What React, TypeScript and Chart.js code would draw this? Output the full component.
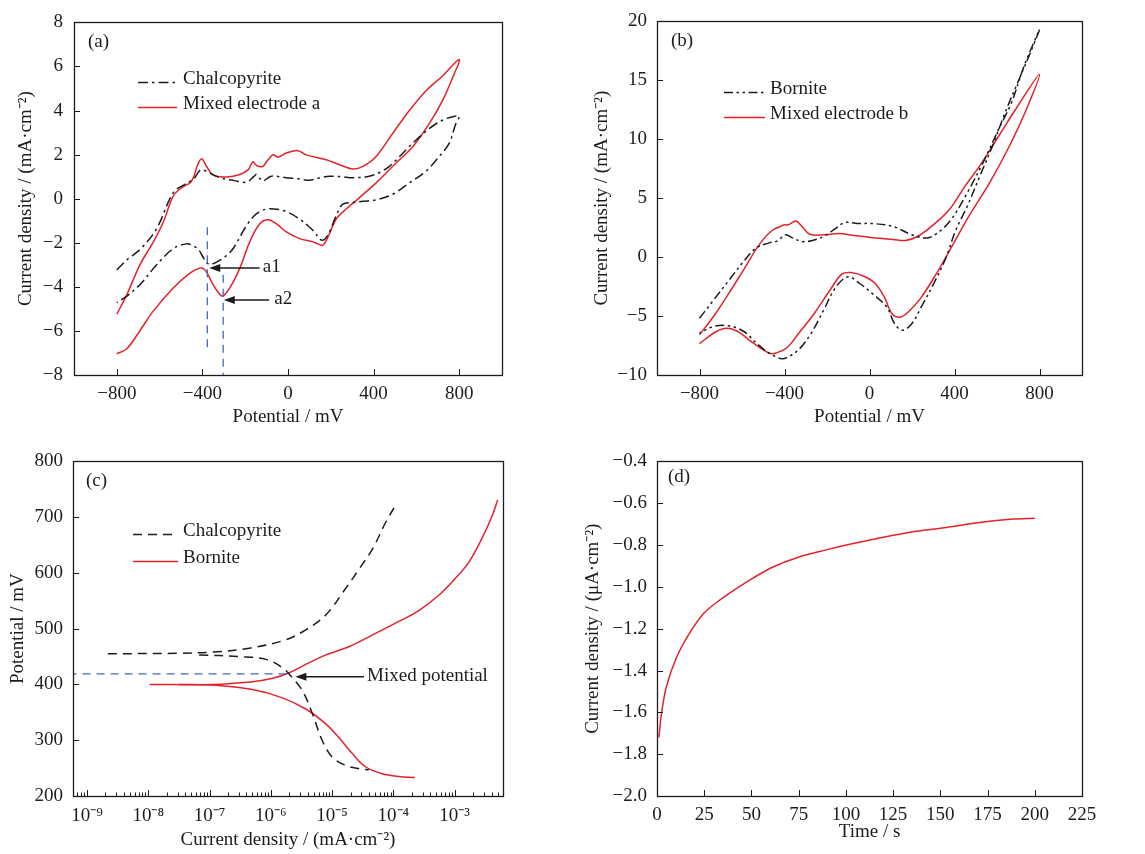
import React, { useEffect, useRef } from "react";
import { Chart, registerables } from "chart.js";

Chart.register(...registerables);

const FONT = '"Liberation Serif", "Times New Roman", Times, serif';
const FS = 19;
const INK = "#1c1c1c";
const RED = "#e3222a";
const BLUE = "#4169c0";

const DASH_DOT = [10, 4, 2.5, 4];
const DASH_DOT_DOT = [9, 3.5, 2.5, 3.5, 2.5, 3.5];
const DASHED = [9, 6];
const BLUE_DASH = [8, 6];

// ================= (a) Chalcopyrite vs mixed electrode a =================
const aXTicks = [-800, -400, 0, 400, 800];
const aYTicks = [-8, -6, -4, -2, 0, 2, 4, 6, 8];

const aChalcoFwdX = [-800, -750, -687, -614, -536, -482, -440, -410, -390, -318, -250, -194, -160, -148, -130, -117, -78, -8, 50, 101, 150, 194, 250, 303, 380, 430, 474, 520, 567, 620, 660, 700, 738, 770, 800];
const aChalcoFwdY = [-3.23, -2.75, -2.26, -1.36, 0.28, 0.65, 0.9, 1.3, 1.28, 0.95, 0.82, 0.75, 1.0, 1.1, 0.9, 0.8, 1.02, 0.95, 0.9, 0.84, 0.95, 1.02, 1.0, 0.95, 1.02, 1.2, 1.47, 1.9, 2.37, 2.85, 3.18, 3.45, 3.63, 3.72, 3.75];
const aChalcoRevX = [784, 753, 707, 645, 567, 489, 412, 350, 303, 256, 225, 194, 170, 150, 124, 90, 54, 0, -50, -100, -148, -194, -256, -290, -320, -350, -370, -385, -400, -415, -440, -474, -536, -614, -692, -753, -800];
const aChalcoRevY = [3.4, 2.51, 1.92, 1.25, 0.72, 0.2, -0.05, -0.12, -0.17, -0.25, -0.77, -1.51, -1.85, -1.85, -1.51, -1.2, -0.92, -0.62, -0.48, -0.47, -0.69, -1.22, -2.26, -2.6, -2.8, -2.95, -2.97, -2.85, -2.6, -2.35, -2.15, -2.05, -2.26, -3.0, -3.9, -4.42, -4.72];

const aMixedFwdX = [-800, -753, -692, -629, -583, -536, -497, -458, -440, -425, -404, -381, -350, -287, -225, -186, -170, -163, -152, -140, -117, -93, -70, -47, -8, 47, 85, 179, 241, 303, 350, 412, 489, 567, 645, 722, 800];
const aMixedFwdY = [-5.24, -4.35, -3.0, -1.96, -1.07, 0.13, 0.5, 0.72, 1.0, 1.47, 1.81, 1.47, 1.07, 0.99, 1.1, 1.32, 1.6, 1.68, 1.55, 1.47, 1.47, 1.77, 1.99, 1.89, 2.07, 2.18, 1.99, 1.77, 1.54, 1.35, 1.47, 1.92, 2.96, 4.0, 4.9, 5.57, 6.32];
const aMixedRevX = [769, 722, 660, 583, 505, 412, 334, 272, 225, 194, 163, 140, 117, 54, -8, -54, -93, -132, -179, -225, -272, -306, -330, -350, -388, -412, -458, -536, -629, -692, -753, -800];
const aMixedRevY = [5.49, 4.45, 3.41, 2.36, 1.62, 0.72, 0.05, -0.47, -0.92, -1.59, -2.11, -2.05, -1.96, -1.81, -1.51, -1.14, -0.95, -1.14, -1.96, -3.15, -4.05, -4.42, -4.2, -3.9, -3.23, -3.15, -3.38, -4.05, -5.09, -5.99, -6.81, -7.03];

const aGuideX = [-377, -303];
const aGuideTop = [-1.3, -3.45];
const aGuideBottom = [-7.0, -8];

// ================= (b) Bornite vs mixed electrode b =================
const bXTicks = [-800, -400, 0, 400, 800];
const bYTicks = [-10, -5, 0, 5, 10, 15, 20];

const bBorniteFwdX = [-800, -735, -663, -591, -533, -476, -432, -396, -360, -317, -274, -216, -159, -115, -58, 14, 111, 199, 272, 331, 389, 463, 536, 609, 668, 727, 800];
const bBorniteFwdY = [-5.19, -3.67, -2.0, -0.33, 0.78, 1.19, 1.39, 1.89, 1.61, 1.33, 1.39, 1.75, 2.44, 2.94, 2.86, 2.85, 2.6, 1.9, 1.63, 2.2, 3.3, 5.56, 8.08, 10.9, 13.1, 16.2, 19.3];
const bBorniteRevX = [756, 697, 639, 580, 521, 463, 404, 360, 301, 243, 199, 155, 118, 82, 14, -43, -101, -159, -216, -274, -332, -389, -418, -476, -533, -591, -663, -735, -800];
const bBorniteRevY = [17.3, 14.8, 12.3, 9.48, 6.96, 4.44, 2.2, -0.05, -2.29, -4.25, -5.65, -6.2, -5.65, -4.25, -3.1, -2.28, -1.67, -2.56, -4.5, -6.44, -7.83, -8.53, -8.61, -8.11, -7.28, -6.31, -5.83, -5.89, -6.44];

const bMixedFwdX = [-800, -735, -663, -591, -519, -461, -404, -382, -346, -317, -281, -216, -144, -72, 14, 111, 170, 228, 301, 375, 448, 521, 609, 697, 800];
const bMixedFwdY = [-6.58, -5.06, -3.1, -1.03, 1.06, 2.22, 2.72, 2.75, 3.06, 2.58, 1.94, 1.89, 2.0, 1.83, 1.65, 1.5, 1.41, 1.77, 2.75, 4.02, 5.98, 7.8, 10.3, 12.8, 15.5];
const bMixedRevX = [735, 655, 565, 472, 415, 372, 315, 240, 180, 145, 106, 70, 25, -29, -87, -130, -187, -260, -332, -389, -447, -476, -548, -620, -670, -721, -800];
const bMixedRevY = [12.4, 9.3, 6.3, 3.6, 1.8, 0.4, -1.4, -3.5, -4.7, -5.09, -4.8, -3.4, -2.2, -1.6, -1.31, -1.44, -2.83, -4.78, -6.44, -7.69, -8.17, -8.11, -7.28, -6.31, -6.03, -6.31, -7.33];

// ================= (c) Tafel polarisation =================
const cXTicks = [1e-9, 1e-8, 1e-7, 1e-6, 1e-5, 1e-4, 1e-3];
const cYTicks = [200, 300, 400, 500, 600, 700, 800];

// current density given as log10(mA·cm^-2)
const cChalcoAnodicLogI = [-8.66, -7.5, -6.95, -6.35, -5.76, -5.43, -5.1, -4.78, -4.56, -4.34, -4.13, -3.94];
const cChalcoAnodicE = [455, 456, 458, 465, 480, 498, 525, 572, 607, 643, 690, 726];
const cChalcoCathodicLogI = [-7.17, -6.51, -6.08, -5.81, -5.65, -5.48, -5.32, -5.16, -5.0, -4.78, -4.56, -4.4];
const cChalcoCathodicE = [453, 450, 445, 430, 412, 388, 347, 299, 270, 255, 249, 247];

const cBorniteAnodicLogI = [-7.98, -6.95, -6.3, -5.97, -5.7, -5.43, -5.1, -4.72, -4.34, -3.91, -3.58, -3.26, -2.99, -2.77, -2.56, -2.39, -2.3];
const cBorniteAnodicE = [400, 400, 405, 411, 421, 436, 453, 468, 489, 513, 533, 560, 590, 619, 661, 702, 731];
const cBorniteCathodicLogI = [-7.5, -6.95, -6.3, -5.81, -5.43, -5.1, -4.89, -4.67, -4.45, -4.18, -3.91, -3.65];
const cBorniteCathodicE = [400, 399, 391, 376, 356, 329, 305, 276, 252, 240, 235, 233];

const cMixedLogI = [-9.3, -5.7];
const cMixedE = [419, 419];

// ================= (d) chronoamperometry =================
const dXTicks = [0, 25, 50, 75, 100, 125, 150, 175, 200, 225];
const dYTicks = [-2.0, -1.8, -1.6, -1.4, -1.2, -1.0, -0.8, -0.6, -0.4];
const dTime = [1, 2.3, 4.9, 10.2, 17.3, 24.7, 33.2, 42, 50.8, 61.4, 74.8, 89.6, 100.2, 117.9, 135.5, 153.2, 170.8, 188.5, 200];
const dCurrent = [-1.72, -1.61, -1.48, -1.34, -1.22, -1.127, -1.063, -1.008, -0.958, -0.905, -0.858, -0.823, -0.8, -0.766, -0.736, -0.716, -0.692, -0.676, -0.672];

// ================= helpers =================
type XY = { x: number; y: number };
const pts = (xs: number[], ys: number[]): XY[] => xs.map((x, i) => ({ x, y: ys[i] }));
const logPts = (ls: number[], ys: number[]): XY[] => ls.map((l, i) => ({ x: Math.pow(10, l), y: ys[i] }));
const minus = (s: string) => s.replace("-", "\u2212");
const fmtInt = (v: number) => minus(String(Math.round(v)));
const fmtDec = (v: number) => minus(v.toFixed(1));
const SUP: Record<string, string> = { "-": "\u207B", "0": "\u2070", "1": "\u00B9", "2": "\u00B2", "3": "\u00B3", "4": "\u2074", "5": "\u2075", "6": "\u2076", "7": "\u2077", "8": "\u2078", "9": "\u2079" };
const fmtPow = (v: number) => "10" + String(Math.round(Math.log10(v))).split("").map((c) => SUP[c] || c).join("");

const LW = 1.5;
const lineDs = (data: XY[], color: string, dash: number[], width = LW, tension = 0.35) => ({
  data,
  showLine: true,
  borderColor: color,
  backgroundColor: color,
  borderWidth: width,
  borderDash: dash,
  pointRadius: 0,
  pointHoverRadius: 0,
  tension,
  fill: false,
});

type Spec = {
  cx: number; cy: number; cw: number; ch: number;
  L: number; T: number; R: number; B: number;
  xType: "linear" | "logarithmic";
  xMin: number; xMax: number; yMin: number; yMax: number;
  xTicks: number[]; yTicks: number[]; xMinor?: number[];
  xFmt: (v: number) => string; yFmt: (v: number) => string;
  xTitle: string; yTitle: string;
  xTitlePad: number; yTitlePad: number; xTickPad: number; yTickPad: number;
  datasets: any[];
  panel: string; panelPos: [number, number];
  legend: { label: string; color: string; dash: number[] }[];
  legendPos: { x0: number; x1: number; tx: number; rows: number[] };
  arrows?: { x1: number; y1: number; x2: number; y2: number }[];
  labels?: { text: string; x: number; y: number }[];
};

function decor(s: Spec) {
  return {
    id: "decor",
    afterDatasetsDraw(chart: any) {
      const { ctx, chartArea: a } = chart;
      const xs = chart.scales.x;
      const ys = chart.scales.y;
      ctx.save();
      ctx.strokeStyle = INK;
      ctx.lineWidth = 1;
      ctx.setLineDash([]);
      ctx.beginPath();
      for (const v of s.xTicks) {
        const p = Math.round(xs.getPixelForValue(v)) + 0.5;
        if (p < a.left + 1 || p > a.right - 1) continue;
        ctx.moveTo(p, a.bottom);
        ctx.lineTo(p, a.bottom - 6);
      }
      for (const v of s.xMinor || []) {
        const p = Math.round(xs.getPixelForValue(v)) + 0.5;
        if (p < a.left + 1 || p > a.right - 1) continue;
        ctx.moveTo(p, a.bottom);
        ctx.lineTo(p, a.bottom - 3.5);
      }
      for (const v of s.yTicks) {
        const p = Math.round(ys.getPixelForValue(v)) + 0.5;
        if (p < a.top + 1 || p > a.bottom - 1) continue;
        ctx.moveTo(a.left, p);
        ctx.lineTo(a.left + 6, p);
      }
      ctx.stroke();
      ctx.lineWidth = 1.3;
      ctx.strokeRect(Math.round(a.left) + 0.5, Math.round(a.top) + 0.5, Math.round(a.right - a.left), Math.round(a.bottom - a.top));

      ctx.font = `${FS}px ${FONT}`;
      ctx.fillStyle = INK;
      ctx.textBaseline = "middle";
      ctx.textAlign = "left";
      ctx.fillText(s.panel, a.left + s.panelPos[0], a.top + s.panelPos[1]);

      s.legend.forEach((it, i) => {
        const y = a.top + s.legendPos.rows[i];
        ctx.save();
        ctx.strokeStyle = it.color;
        ctx.lineWidth = LW;
        ctx.setLineDash(it.dash);
        ctx.beginPath();
        ctx.moveTo(a.left + s.legendPos.x0, y + 3);
        ctx.lineTo(a.left + s.legendPos.x1, y + 3);
        ctx.stroke();
        ctx.restore();
        ctx.fillText(it.label, a.left + s.legendPos.tx, y);
      });

      for (const ar of s.arrows || []) {
        const x1 = xs.getPixelForValue(ar.x1), y1 = ys.getPixelForValue(ar.y1);
        const x2 = xs.getPixelForValue(ar.x2), y2 = ys.getPixelForValue(ar.y2);
        const ang = Math.atan2(y2 - y1, x2 - x1);
        const len = 11, w = 4;
        ctx.lineWidth = 1.5;
        ctx.beginPath();
        ctx.moveTo(x1, y1);
        ctx.lineTo(x2 - (len - 2) * Math.cos(ang), y2 - (len - 2) * Math.sin(ang));
        ctx.stroke();
        ctx.beginPath();
        ctx.moveTo(x2, y2);
        ctx.lineTo(x2 - len * Math.cos(ang) + w * Math.sin(ang), y2 - len * Math.sin(ang) - w * Math.cos(ang));
        ctx.lineTo(x2 - len * Math.cos(ang) - w * Math.sin(ang), y2 - len * Math.sin(ang) + w * Math.cos(ang));
        ctx.closePath();
        ctx.fill();
      }
      for (const lb of s.labels || []) {
        ctx.fillText(lb.text, xs.getPixelForValue(lb.x), ys.getPixelForValue(lb.y) - 1);
      }
      ctx.restore();
    },
  };
}

function makeConfig(s: Spec): any {
  const font = { family: FONT, size: FS };
  return {
    type: "scatter",
    data: { datasets: s.datasets },
    options: {
      responsive: false,
      maintainAspectRatio: false,
      animation: false,
      devicePixelRatio: 1,
      events: [],
      layout: { padding: { left: 0, top: s.T - s.cy, right: s.cx + s.cw - s.R, bottom: 0 } },
      plugins: { legend: { display: false }, tooltip: { enabled: false } },
      scales: {
        x: {
          type: s.xType,
          min: s.xMin,
          max: s.xMax,
          afterBuildTicks: (sc: any) => {
            sc.ticks = s.xTicks.map((v) => ({ value: v }));
          },
          afterFit: (sc: any) => {
            sc.height = s.cy + s.ch - s.B;
          },
          grid: { display: false, drawTicks: false },
          border: { display: false },
          ticks: { font, color: INK, padding: s.xTickPad, maxRotation: 0, minRotation: 0, autoSkip: false, callback: (v: any) => s.xFmt(Number(v)) },
          title: { display: true, text: s.xTitle, font, color: INK, padding: { top: 0, bottom: s.xTitlePad } },
        },
        y: {
          type: "linear",
          min: s.yMin,
          max: s.yMax,
          afterBuildTicks: (sc: any) => {
            sc.ticks = s.yTicks.map((v) => ({ value: v }));
          },
          afterFit: (sc: any) => {
            sc.width = s.L - s.cx;
          },
          grid: { display: false, drawTicks: false },
          border: { display: false },
          ticks: { font, color: INK, padding: s.yTickPad, autoSkip: false, callback: (v: any) => s.yFmt(Number(v)) },
          title: { display: true, text: s.yTitle, font, color: INK, padding: { top: s.yTitlePad, bottom: 0 } },
        },
      },
    },
    plugins: [decor(s)],
  };
}

// minor tick positions for log axis (2..9 × each decade)
const cMinor: number[] = [];
for (let d = -10; d <= -3; d++) for (let k = 2; k <= 9; k++) cMinor.push(k * Math.pow(10, d));

const specA: Spec = {
  cx: 0, cy: 0, cw: 575, ch: 430, L: 74, T: 17, R: 502, B: 375,
  xType: "linear", xMin: -1000, xMax: 1000, yMin: -8, yMax: 8,
  xTicks: aXTicks, yTicks: aYTicks, xFmt: fmtInt, yFmt: fmtInt,
  xTitle: "Potential / mV", yTitle: "Current density / (mA\u00B7cm\u207B\u00B2)",
  xTitlePad: 1.6, yTitlePad: 14.4, xTickPad: 8, yTickPad: 11,
  datasets: [
    lineDs(pts(aGuideX.slice(0, 1).concat(aGuideX.slice(0, 1)), [aGuideTop[0], aGuideBottom[0]]), BLUE, BLUE_DASH, 1.3, 0),
    lineDs(pts(aGuideX.slice(1, 2).concat(aGuideX.slice(1, 2)), [aGuideTop[1], aGuideBottom[1]]), BLUE, BLUE_DASH, 1.3, 0),
    lineDs(pts(aChalcoFwdX.concat(aChalcoRevX), aChalcoFwdY.concat(aChalcoRevY)), INK, DASH_DOT),
    lineDs(pts(aMixedFwdX.concat(aMixedRevX), aMixedFwdY.concat(aMixedRevY)), RED, []),
  ],
  panel: "(a)", panelPos: [14, 20],
  legend: [
    { label: "Chalcopyrite", color: INK, dash: DASH_DOT },
    { label: "Mixed electrode a", color: RED, dash: [] },
  ],
  legendPos: { x0: 64, x1: 103, tx: 109, rows: [57, 82] },
  arrows: [
    { x1: -133, y1: -3.15, x2: -368, y2: -3.15 },
    { x1: -88, y1: -4.6, x2: -300, y2: -4.6 },
  ],
  labels: [
    { text: "a1", x: -118, y: -3.15 },
    { text: "a2", x: -64, y: -4.6 },
  ],
};

const specB: Spec = {
  cx: 580, cy: 0, cw: 565, ch: 430, L: 657, T: 18, R: 1082, B: 375,
  xType: "linear", xMin: -1000, xMax: 1000, yMin: -10, yMax: 20,
  xTicks: bXTicks, yTicks: bYTicks, xFmt: fmtInt, yFmt: fmtInt,
  xTitle: "Potential / mV", yTitle: "Current density / (mA\u00B7cm\u207B\u00B2)",
  xTitlePad: 1.6, yTitlePad: 10.9, xTickPad: 8, yTickPad: 10,
  datasets: [
    lineDs(pts(bBorniteFwdX.concat(bBorniteRevX), bBorniteFwdY.concat(bBorniteRevY)), INK, DASH_DOT_DOT),
    lineDs(pts(bMixedFwdX.concat(bMixedRevX), bMixedFwdY.concat(bMixedRevY)), RED, []),
  ],
  panel: "(b)", panelPos: [14, 20],
  legend: [
    { label: "Bornite", color: INK, dash: DASH_DOT_DOT },
    { label: "Mixed electrode b", color: RED, dash: [] },
  ],
  legendPos: { x0: 67, x1: 108, tx: 113, rows: [68, 93] },
};

const specC: Spec = {
  cx: 0, cy: 440, cw: 575, ch: 414, L: 73, T: 458, R: 503, B: 796,
  xType: "logarithmic", xMin: Math.pow(10, -9.228), xMax: Math.pow(10, -2.212), yMin: 200, yMax: 800,
  xTicks: cXTicks, yTicks: cYTicks, xMinor: cMinor, xFmt: fmtPow, yFmt: fmtInt,
  xTitle: "Current density / (mA\u00B7cm\u207B\u00B2)", yTitle: "Potential / mV",
  xTitlePad: 2.6, yTitlePad: 7, xTickPad: 9, yTickPad: 10,
  datasets: [
    lineDs(logPts(cMixedLogI, cMixedE), BLUE, BLUE_DASH, 1.3, 0),
    lineDs(logPts(cChalcoAnodicLogI, cChalcoAnodicE), INK, DASHED),
    lineDs(logPts(cChalcoCathodicLogI, cChalcoCathodicE), INK, DASHED),
    lineDs(logPts(cBorniteAnodicLogI, cBorniteAnodicE), RED, []),
    lineDs(logPts(cBorniteCathodicLogI, cBorniteCathodicE), RED, []),
  ],
  panel: "(c)", panelPos: [13, 20],
  legend: [
    { label: "Chalcopyrite", color: INK, dash: DASHED },
    { label: "Bornite", color: RED, dash: [] },
  ],
  legendPos: { x0: 60, x1: 105, tx: 110, rows: [70, 97] },
  arrows: [{ x1: Math.pow(10, -4.48), y1: 414, x2: Math.pow(10, -5.6), y2: 414 }],
  labels: [{ text: "Mixed potential", x: Math.pow(10, -4.43), y: 414 }],
};

const specD: Spec = {
  cx: 580, cy: 440, cw: 565, ch: 414, L: 657, T: 459, R: 1082, B: 796,
  xType: "linear", xMin: 0, xMax: 225, yMin: -2.0, yMax: -0.4,
  xTicks: dXTicks, yTicks: dYTicks, xFmt: fmtInt, yFmt: fmtDec,
  xTitle: "Time / s", yTitle: "Current density / (\u03BCA\u00B7cm\u207B\u00B2)",
  xTitlePad: 10.6, yTitlePad: 1.4, xTickPad: 8, yTickPad: 10,
  datasets: [lineDs(pts(dTime, dCurrent), RED, [], LW, 0.3)],
  panel: "(d)", panelPos: [11, 16],
  legend: [],
  legendPos: { x0: 0, x1: 0, tx: 0, rows: [] },
};

function Panel({ spec }: { spec: Spec }) {
  const ref = useRef<HTMLCanvasElement>(null);
  useEffect(() => {
    const chart = new Chart(ref.current as HTMLCanvasElement, makeConfig(spec));
    return () => chart.destroy();
  }, [spec]);
  return (
    <canvas
      ref={ref}
      width={spec.cw}
      height={spec.ch}
      style={{ position: "absolute", left: spec.cx, top: spec.cy, width: spec.cw, height: spec.ch }}
    />
  );
}

export default function App() {
  return (
    <div style={{ position: "fixed", left: 0, top: 0, width: 1145, height: 854, background: "#fff", overflow: "hidden" }}>
      <Panel spec={specA} />
      <Panel spec={specB} />
      <Panel spec={specC} />
      <Panel spec={specD} />
    </div>
  );
}
